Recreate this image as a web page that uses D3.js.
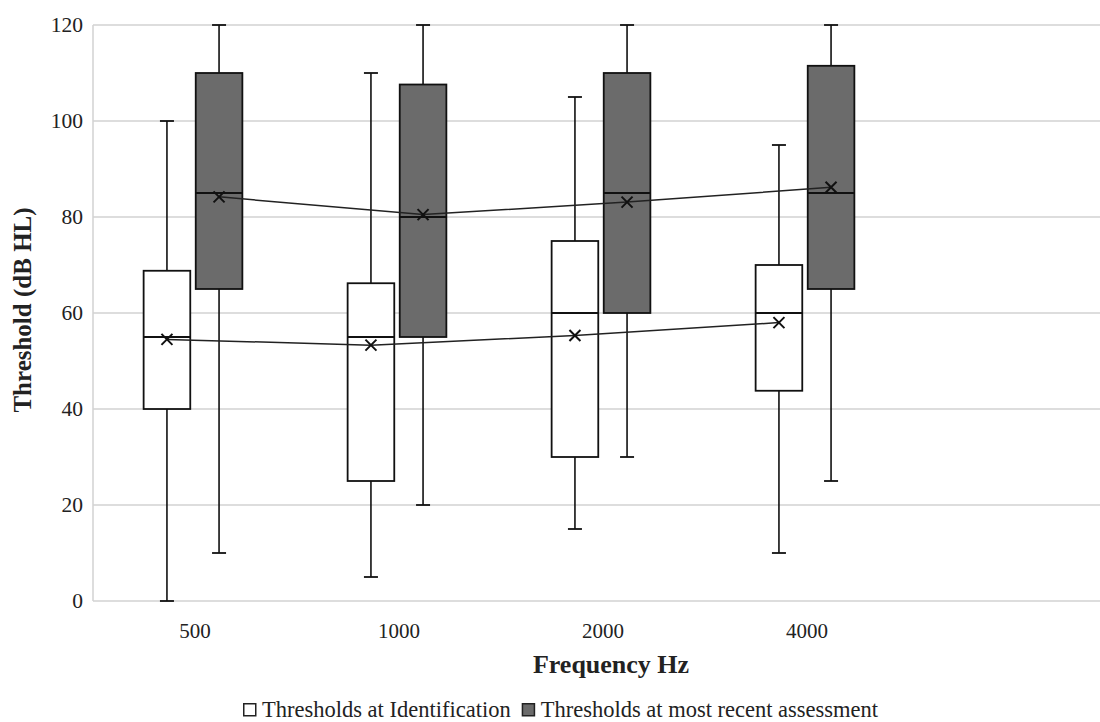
<!DOCTYPE html>
<html><head><meta charset="utf-8">
<script src="https://cdn.jsdelivr.net/npm/d3@7"></script>
<style>body{margin:0;background:#fff}svg{display:block}text{font-family:"Liberation Serif","Times New Roman",serif;fill:#222}</style>
</head><body>
<script>
const categories = ["500","1000","2000","4000",""];
const seriesNames = ["Thresholds at Identification","Thresholds at most recent assessment"];
const yTicks = [0,20,40,60,80,100,120];
const identMin    = [0, 5, 15, 10];
const identQ1     = [40, 25, 30, 43.8];
const identMedian = [55, 55, 60, 60];
const identQ3     = [68.8, 66.2, 75, 70];
const identMax    = [100, 110, 105, 95];
const identMean   = [54.5, 53.3, 55.3, 58];
const recentMin    = [10, 20, 30, 25];
const recentQ1     = [65, 55, 60, 65];
const recentMedian = [85, 80, 85, 85];
const recentQ3     = [110, 107.6, 110, 111.5];
const recentMax    = [120, 120, 120, 120];
const recentMean   = [84.2, 80.5, 83.1, 86.2];

const W=1100,H=722;
const svg=d3.select("body").append("svg").attr("width",W).attr("height",H);
const y=d3.scaleLinear().domain([0,120]).range([601,25]);
const x=d3.scaleBand().domain(categories).range([91,1111]);
const xs=d3.scaleBand().domain([0,1]).range([0,x.bandwidth()]).paddingInner(0.105).paddingOuter(1.01);
const plotLeft=93;

svg.append("g").selectAll("line").data(yTicks).join("line")
 .attr("x1",plotLeft).attr("x2",W).attr("y1",d=>y(d)).attr("y2",d=>y(d))
 .attr("stroke","#d2d2d2").attr("stroke-width",1.5);
svg.append("line").attr("x1",plotLeft).attr("x2",plotLeft).attr("y1",y(120)).attr("y2",y(0)).attr("stroke","#d2d2d2").attr("stroke-width",1.5);

const yAxis=d3.axisLeft(y).tickValues(yTicks).tickSize(0).tickPadding(10);
const ga=svg.append("g").attr("transform",`translate(${plotLeft},0)`).call(yAxis);
ga.select(".domain").remove();
ga.selectAll("text").style("font-size","21.5px").style("font-family","Liberation Serif").attr("fill","#333");

const xAxis=d3.axisBottom(x).tickSize(0).tickPadding(22);
const gx=svg.append("g").attr("transform",`translate(2,${y(0)})`).call(xAxis);
gx.select(".domain").remove();
gx.selectAll("text").style("font-size","21px").style("font-family","Liberation Serif").attr("fill","#333");

const series=[
 {min:identMin,q1:identQ1,med:identMedian,q3:identQ3,max:identMax,mean:identMean,fill:"#ffffff"},
 {min:recentMin,q1:recentQ1,med:recentMedian,q3:recentQ3,max:recentMax,mean:recentMean,fill:"#6b6b6b"}
];
const bw=xs.bandwidth(), cap=14;
series.forEach((s,si)=>{
  const g=svg.append("g");
  const data=categories.slice(0,4).map((c,i)=>({c,i,cx:x(c)+xs(si)+bw/2,x0:x(c)+xs(si)}));
  g.selectAll(".wu").data(data).join("line").attr("x1",d=>d.cx).attr("x2",d=>d.cx)
   .attr("y1",d=>y(s.max[d.i])).attr("y2",d=>y(s.q3[d.i])).attr("stroke","#111").attr("stroke-width",1.6);
  g.selectAll(".wl").data(data).join("line").attr("x1",d=>d.cx).attr("x2",d=>d.cx)
   .attr("y1",d=>y(s.min[d.i])).attr("y2",d=>y(s.q1[d.i])).attr("stroke","#111").attr("stroke-width",1.6);
  g.selectAll(".cu").data(data).join("line").attr("x1",d=>d.cx-cap/2).attr("x2",d=>d.cx+cap/2)
   .attr("y1",d=>y(s.max[d.i])).attr("y2",d=>y(s.max[d.i])).attr("stroke","#111").attr("stroke-width",1.8);
  g.selectAll(".cl").data(data).join("line").attr("x1",d=>d.cx-cap/2).attr("x2",d=>d.cx+cap/2)
   .attr("y1",d=>y(s.min[d.i])).attr("y2",d=>y(s.min[d.i])).attr("stroke","#111").attr("stroke-width",1.8);
  g.selectAll("rect").data(data).join("rect").attr("x",d=>d.x0).attr("width",bw)
   .attr("y",d=>y(s.q3[d.i])).attr("height",d=>y(s.q1[d.i])-y(s.q3[d.i]))
   .attr("fill",s.fill).attr("stroke","#111").attr("stroke-width",1.8);
  g.selectAll(".med").data(data).join("line").attr("x1",d=>d.x0).attr("x2",d=>d.x0+bw)
   .attr("y1",d=>y(s.med[d.i])).attr("y2",d=>y(s.med[d.i])).attr("stroke","#111").attr("stroke-width",1.8);
  s.data=data;
});
series.forEach((s)=>{
  const line=d3.line().x(d=>d.cx).y(d=>y(s.mean[d.i]));
  svg.append("path").datum(s.data).attr("d",line).attr("fill","none").attr("stroke","#222").attr("stroke-width",1.5);
  const m=5.5;
  svg.append("g").selectAll("path").data(s.data).join("path")
   .attr("d",d=>{const cx=d.cx,cy=y(s.mean[d.i]);return `M${cx-m},${cy-m}L${cx+m},${cy+m}M${cx-m},${cy+m}L${cx+m},${cy-m}`;})
   .attr("stroke","#111").attr("stroke-width",2).attr("fill","none");
});

svg.append("text").attr("x",611).attr("y",673).attr("text-anchor","middle")
 .style("font-size","26px").style("font-weight","bold").text("Frequency Hz");
svg.append("text").attr("transform","translate(31,310) rotate(-90)").attr("text-anchor","middle")
 .style("font-size","25px").style("font-weight","bold").text("Threshold (dB HL)");

const lg=svg.append("g").attr("transform","translate(243,703)");
const items=[{t:seriesNames[0],f:"#ffffff"},{t:seriesNames[1],f:"#6b6b6b"}];
let lx=0;
items.forEach((it,i)=>{
  lg.append("rect").attr("x",lx+0.75).attr("y",0.75).attr("width",12).attr("height",12).attr("fill",it.f).attr("stroke","#222").attr("stroke-width",1.5);
  const t=lg.append("text").attr("x",lx+19).attr("y",14).style("font-size","22.5px").text(it.t);
  lx+=19+t.node().getComputedTextLength()+11;
});
</script>
</body></html>
